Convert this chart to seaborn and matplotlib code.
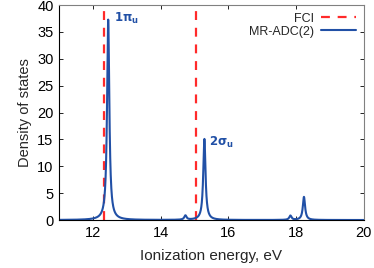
import numpy as np
import pandas as pd
import seaborn as sns
import matplotlib
matplotlib.use("Agg")
import matplotlib.pyplot as plt

# peak positions (eV) and heights
peak_pos = [12.45, 14.73, 15.29, 17.83, 18.23]
peak_height = [37.3, 0.8, 15.1, 0.8, 4.3]
broadening = 0.04

# FCI reference ionization energies
fci_pos = [12.32, 15.05]

x_range = [11, 20]
y_range = [0, 40]
x_ticks = [12, 14, 16, 18, 20]
y_ticks = [0, 5, 10, 15, 20, 25, 30, 35, 40]

blue = "#2150a6"
red = "#ff2a2a"


def spectrum(x):
    y = np.zeros_like(x)
    for x0, h in zip(peak_pos, peak_height):
        y += h * broadening**2 / ((x - x0)**2 + broadening**2)
    return y


def main():
    sns.set_style("ticks")
    plt.rcParams['font.family'] = ['Liberation Sans', 'DejaVu Sans']

    grid = np.linspace(x_range[0], x_range[1], 3000)
    df = pd.DataFrame({"energy": grid, "dos": spectrum(grid)})

    fig, ax = plt.subplots(figsize=(3.74, 2.68), dpi=100)
    fig.subplots_adjust(left=0.158, right=0.973, bottom=0.179, top=0.981)

    for i, xf in enumerate(fci_pos):
        ax.plot([xf, xf], y_range, color=red, lw=1.6, ls=(0, (4, 3.5)),
                label="FCI" if i == 0 else None)
    sns.lineplot(data=df, x="energy", y="dos", ax=ax, color=blue, lw=1.5,
                 label="MR-ADC(2)")

    ax.set_xlim(x_range)
    ax.set_ylim(y_range)
    ax.set_xticks(x_ticks)
    ax.set_yticks(y_ticks)
    ax.tick_params(direction="in", length=3, labelsize=10.5, width=0.6,
                   top=True, right=True, pad=4, colors="black")
    for s in ["top", "right"]:
        ax.spines[s].set_color("#808080")
    for s in ["left", "bottom"]:
        ax.spines[s].set_color("black")
    for s in ax.spines.values():
        s.set_linewidth(0.8)

    ax.set_xlabel("Ionization energy, eV", fontsize=11, labelpad=7)
    ax.set_ylabel("Density of states", fontsize=10.5)

    ax.text(12.63, 36.8, r"$\mathbf{1\pi_u}$", color=blue, fontsize=8.5,
            fontweight="bold")
    ax.text(15.42, 13.8, r"$\mathbf{2\sigma_u}$", color=blue, fontsize=8.5,
            fontweight="bold")

    ax.legend(loc="upper right", frameon=False, markerfirst=False,
              fontsize=9, handlelength=2.8, labelspacing=0.1,
              borderaxespad=0.2, handletextpad=0.6)

    fig.savefig("out.png", dpi=100)


if __name__ == "__main__":
    main()
